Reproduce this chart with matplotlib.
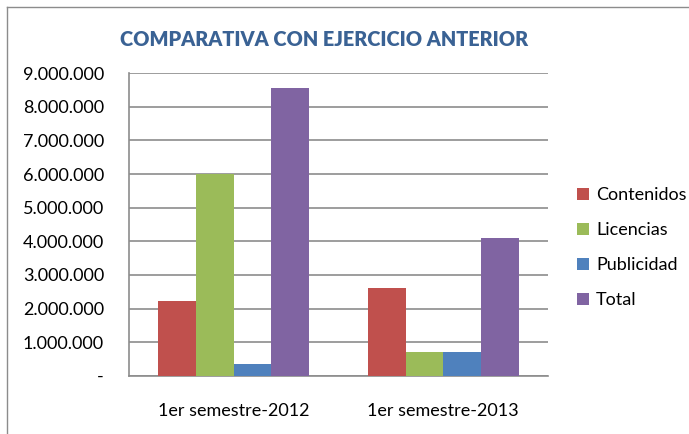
import numpy as np
import matplotlib
matplotlib.use("Agg")
import matplotlib.pyplot as plt
from matplotlib.lines import Line2D
from matplotlib.ticker import FuncFormatter

plt.rcParams["font.family"] = ["Lato", "DejaVu Sans"]

categories = ["1er semestre-2012", "1er semestre-2013"]
series_names = ["Contenidos", "Licencias", "Publicidad", "Total"]
contenidos = [2220000, 2600000]
licencias = [6000000, 710000]
publicidad = [360000, 710000]
total = [8570000, 4090000]
colors = ["#C0504D", "#9BBB59", "#4F81BD", "#8064A2"]

fig = plt.figure(figsize=(6.89, 4.34), dpi=100)
ax = fig.add_axes([129 / 689, 1 - 375.7 / 434, (548 - 129) / 689, (375.7 - 73.3) / 434])

x = np.arange(len(categories))
width = 0.18
all_series = [contenidos, licencias, publicidad, total]
for i, (vals, name, col) in enumerate(zip(all_series, series_names, colors)):
    ax.bar(x + (i - 1.5) * width, vals, width, color=col, label=name, zorder=3)

ax.set_xlim(-0.5, 1.5)
ax.set_ylim(0, 9000000)
ax.set_yticks(np.arange(0, 9000001, 1000000))


def fmt(v, pos):
    if v == 0:
        return "-"
    return f"{int(v):,}".replace(",", ".")


ax.yaxis.set_major_formatter(FuncFormatter(fmt))
ax.set_xticks(x)
ax.set_xticklabels(categories)
ax.tick_params(axis="x", length=0, pad=20, labelsize=13)
ax.tick_params(axis="y", length=0, pad=18, labelsize=13)
ax.grid(axis="y", color="#8C8C8C", linewidth=1.2, zorder=0)
for s in ["top", "right"]:
    ax.spines[s].set_visible(False)
for s in ["left", "bottom"]:
    ax.spines[s].set_color("#8C8C8C")
    ax.spines[s].set_linewidth(1.2)

fig.text(0.47, 1 - 40 / 434, "COMPARATIVA CON EJERCICIO ANTERIOR", ha="center", va="center",
         fontsize=14.3, fontweight="heavy", color="#3A6294")

ax.legend(loc="center left", bbox_to_anchor=(570 / 689, 1 - 247.5 / 434), bbox_transform=fig.transFigure,
          frameon=False, fontsize=13, handlelength=0.65, handleheight=0.65, handletextpad=0.4,
          labelspacing=1.05, borderaxespad=0)

# chart area border (left and top visible)
fig.add_artist(Line2D([7 / 689, 7 / 689], [0, 1 - 7 / 434], transform=fig.transFigure, color="#8C8C8C", lw=1))
fig.add_artist(Line2D([7 / 689, 1], [1 - 7 / 434, 1 - 7 / 434], transform=fig.transFigure, color="#8C8C8C", lw=1))

fig.savefig("out.png", dpi=100)
